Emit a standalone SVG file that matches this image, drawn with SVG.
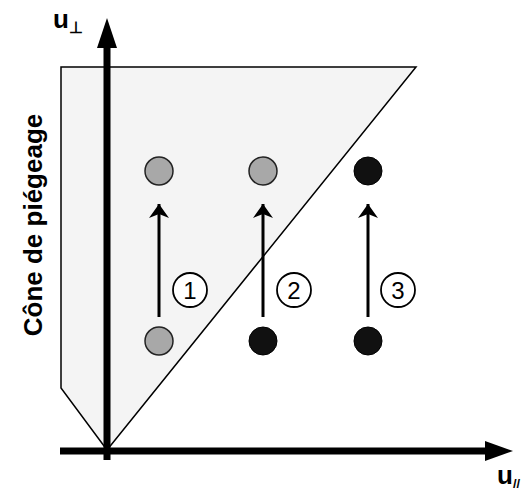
<svg xmlns="http://www.w3.org/2000/svg" width="530" height="492" viewBox="0 0 530 492">
<style>
.lbl{font-family:"Liberation Sans",Arial,sans-serif;font-weight:bold;fill:#000}
.num{font-family:"Liberation Sans",Arial,sans-serif;font-size:24px;fill:#000;text-anchor:middle}
.gray{fill:#a8a8a8;stroke:#222;stroke-width:1.5}
.black{fill:#111;stroke:#000;stroke-width:1}
.ring{fill:#fff;stroke:#000;stroke-width:1.8}
.arr{stroke:#000;stroke-width:3;fill:none}
</style>
<defs>
<marker id="ah" viewBox="0 0 14 24" refX="14" refY="12" markerWidth="14" markerHeight="24" markerUnits="userSpaceOnUse" orient="auto">
<path d="M0,2 L14,12 L0,22 L4,12 Z" fill="#000"/>
</marker>
</defs>
<g id="cone">
<polygon points="61,67 416,67 107,450 61,388" fill="#f4f4f4" stroke="#000" stroke-width="1.5"/>
</g>
<g id="axes">
<line x1="107" y1="460" x2="107" y2="44" stroke="#000" stroke-width="7"/>
<polygon points="107,18 97,48 117,48" fill="#000"/>
<line x1="60" y1="451" x2="488" y2="451" stroke="#000" stroke-width="7"/>
<polygon points="513,451 485,441 485,461" fill="#000"/>
</g>
<g id="particles">
<circle id="p1a" class="gray" cx="159" cy="171" r="14"/>
<circle id="p2a" class="gray" cx="263" cy="171" r="14"/>
<circle id="p3a" class="black" cx="368" cy="171" r="14"/>
<circle id="p1b" class="gray" cx="159" cy="341" r="14"/>
<circle id="p2b" class="black" cx="263" cy="341" r="14"/>
<circle id="p3b" class="black" cx="368" cy="341" r="14"/>
</g>
<g id="connectors">
<line class="arr" x1="159" y1="317" x2="159" y2="204" marker-end="url(#ah)"/>
<line class="arr" x1="263" y1="317" x2="263" y2="204" marker-end="url(#ah)"/>
<line class="arr" x1="368" y1="317" x2="368" y2="204" marker-end="url(#ah)"/>
</g>
<g id="n1"><circle class="ring" cx="190" cy="290" r="17"/><text class="num" x="190" y="299">1</text></g>
<g id="n2"><circle class="ring" cx="294" cy="290" r="17"/><text class="num" x="294" y="299">2</text></g>
<g id="n3"><circle class="ring" cx="398" cy="290" r="17"/><text class="num" x="398" y="299">3</text></g>
<g id="labels">
<text class="lbl" x="53" y="28" font-size="26">u</text>
<text class="lbl" x="69" y="33" font-size="16">⊥</text>
<text class="lbl" x="497" y="484" font-size="26">u</text>
<text class="lbl" x="513" y="488" font-size="13">//</text>
<text class="lbl" transform="translate(42,225) rotate(-90)" text-anchor="middle" font-size="26">Cône de piégeage</text>
</g>
</svg>
